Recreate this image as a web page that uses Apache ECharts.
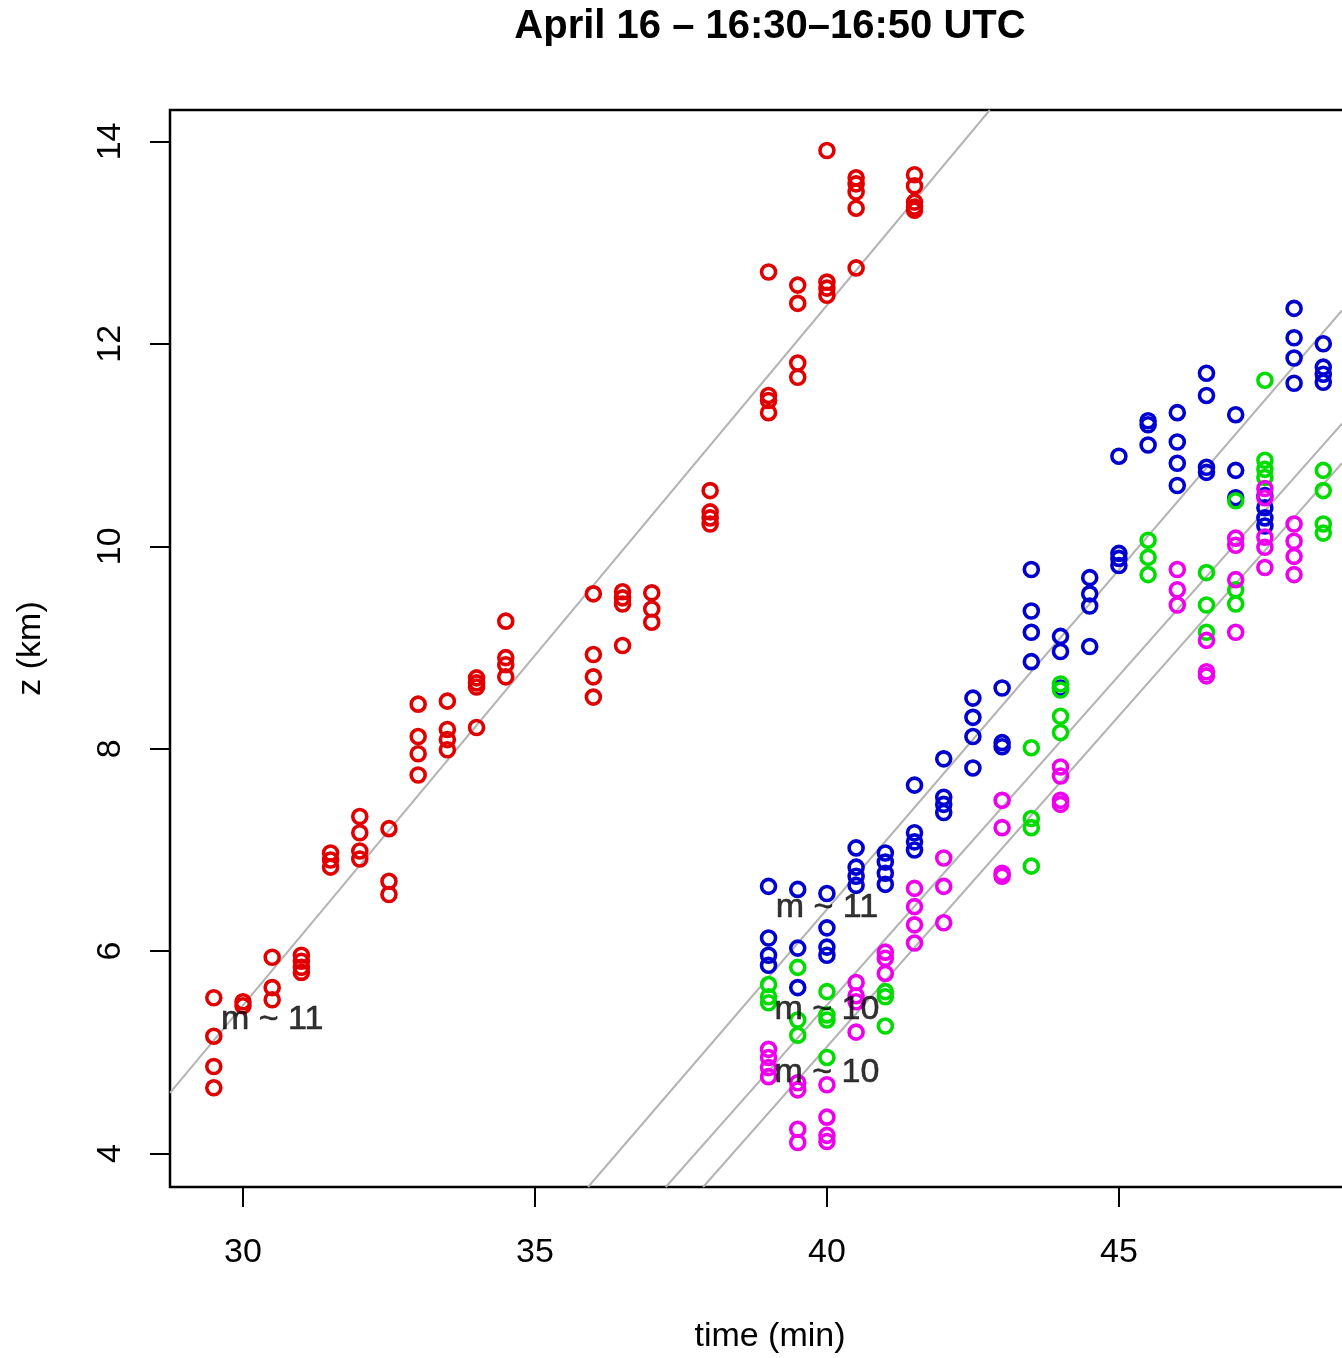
<!DOCTYPE html>
<html>
<head>
<meta charset="utf-8">
<script src="https://cdn.jsdelivr.net/npm/echarts@6/dist/echarts.min.js"></script>
<style>
html,body{margin:0;padding:0;background:#fff;}
#chart{width:1342px;height:1358px;}
</style>
</head>
<body>
<div id="chart"></div>
<script>
// ---- data ----
const titleText = 'April 16 \u2013 16:30\u201316:50 UTC';
const xTicks = [30, 35, 40, 45];
const yTicks = [4, 6, 8, 10, 12, 14];

const redPts = [
  [29.5,5.54],[29.5,5.16],[29.5,4.86],[29.5,4.65],
  [30,5.50],[30,5.46],
  [30.5,5.94],[30.5,5.64],[30.5,5.52],
  [31,5.96],[31,5.90],[31,5.84],[31,5.79],
  [31.5,6.97],[31.5,6.90],[31.5,6.83],
  [32,7.33],[32,7.17],[32,6.99],[32,6.91],
  [32.5,7.21],[32.5,6.69],[32.5,6.56],
  [33,8.44],[33,8.12],[33,7.95],[33,7.74],
  [33.5,8.47],[33.5,8.19],[33.5,8.09],[33.5,7.99],
  [34,8.70],[34,8.65],[34,8.61],[34,8.21],
  [34.5,9.26],[34.5,8.90],[34.5,8.83],[34.5,8.71],
  [36,9.53],[36,8.93],[36,8.71],[36,8.51],
  [36.5,9.55],[36.5,9.49],[36.5,9.43],[36.5,9.02],
  [37,9.54],[37,9.38],[37,9.25],
  [38,10.55],[38,10.34],[38,10.28],[38,10.22],
  [39,12.71],[39,11.49],[39,11.44],[39,11.32],
  [39.5,12.58],[39.5,12.40],[39.5,11.81],[39.5,11.67],
  [40,13.91],[40,12.61],[40,12.55],[40,12.48],
  [40.5,13.64],[40.5,13.58],[40.5,13.50],[40.5,13.34],[40.5,12.75],
  [41.5,13.67],[41.5,13.56],[41.5,13.40],[41.5,13.35],[41.5,13.32]
];
const bluePts = [
  [39,6.64],[39,6.13],[39,5.96],[39,5.86],
  [39.5,6.61],[39.5,6.03],[39.5,5.64],
  [40,6.57],[40,6.23],[40,6.04],[40,5.96],
  [40.5,7.02],[40.5,6.83],[40.5,6.74],[40.5,6.65],
  [41,6.97],[41,6.88],[41,6.77],[41,6.66],
  [41.5,7.64],[41.5,7.17],[41.5,7.08],[41.5,7.00],
  [42,7.90],[42,7.52],[42,7.45],[42,7.37],
  [42.5,8.50],[42.5,8.31],[42.5,8.12],[42.5,7.81],
  [43,8.60],[43,8.06],[43,8.02],
  [43.5,9.77],[43.5,9.36],[43.5,9.15],[43.5,8.86],
  [44,9.11],[44,8.96],[44,8.60],
  [44.5,9.69],[44.5,9.53],[44.5,9.41],[44.5,9.01],
  [45,10.89],[45,9.93],[45,9.88],[45,9.81],
  [45.5,11.24],[45.5,11.20],[45.5,11.00],
  [46,11.32],[46,11.03],[46,10.82],[46,10.60],
  [46.5,11.71],[46.5,11.49],[46.5,10.78],[46.5,10.73],
  [47,11.30],[47,10.75],[47,10.48],
  [47.5,10.50],[47.5,10.38],[47.5,10.28],[47.5,10.20],
  [48,12.35],[48,12.06],[48,11.86],[48,11.61],
  [48.5,12.00],[48.5,11.77],[48.5,11.70],[48.5,11.62]
];
const greenPts = [
  [39,5.67],[39,5.55],[39,5.49],
  [39.5,5.84],[39.5,5.32],[39.5,5.17],
  [40,5.60],[40,5.37],[40,5.32],[40,4.95],
  [41,5.60],[41,5.55],[41,5.26],
  [43.5,8.01],[43.5,7.31],[43.5,7.22],[43.5,6.84],
  [44,8.64],[44,8.58],[44,8.32],[44,8.16],
  [45.5,10.06],[45.5,9.89],[45.5,9.72],
  [46.5,9.74],[46.5,9.42],[46.5,9.15],
  [47,10.45],[47,9.57],[47,9.43],
  [47.5,11.64],[47.5,10.85],[47.5,10.76],[47.5,10.68],
  [48.5,10.75],[48.5,10.55],[48.5,10.22],[48.5,10.13]
];
const magentaPts = [
  [39,5.03],[39,4.95],[39,4.85],[39,4.76],
  [39.5,4.70],[39.5,4.63],[39.5,4.24],[39.5,4.11],
  [40,4.68],[40,4.36],[40,4.18],[40,4.12],
  [40.5,5.69],[40.5,5.56],[40.5,5.50],[40.5,5.20],
  [41,5.99],[41,5.93],[41,5.78],
  [41.5,6.62],[41.5,6.44],[41.5,6.26],[41.5,6.08],
  [42,6.92],[42,6.64],[42,6.28],
  [43,7.49],[43,7.22],[43,6.77],[43,6.74],
  [44,7.82],[44,7.73],[44,7.49],[44,7.45],
  [46,9.77],[46,9.57],[46,9.42],
  [46.5,9.07],[46.5,8.76],[46.5,8.72],
  [47,10.08],[47,10.01],[47,9.67],[47,9.15],
  [47.5,10.57],[47.5,10.48],[47.5,10.09],[47.5,9.99],[47.5,9.79],
  [48,10.22],[48,10.05],[48,9.90],[48,9.72]
];
// fitted ascent lines: [t start, z start, t end, z end]
const fitLines = [
  [28.75, 4.60, 42.79, 14.31],
  [35.91, 3.67, 48.82, 12.33],
  [37.24, 3.67, 48.82, 11.21],
  [37.88, 3.67, 48.82, 10.82]
];
// annotations: [t, z, text]
const notes = [
  [30.5, 5.32, 'm ~ 11'],
  [40.0, 6.43, 'm ~ 11'],
  [40.0, 5.42, 'm ~ 10'],
  [40.0, 4.80, 'm ~ 10']
];

const FONT = '"Liberation Sans", Arial, Helvetica, sans-serif';

function pointSeries(name, pts, color) {
  return {
    name: name, type: 'scatter', data: pts,
    symbol: 'circle', symbolSize: 14,
    itemStyle: {color: 'rgba(0,0,0,0)', borderColor: color, borderWidth: 3.6, opacity: 1},
    z: 3, silent: true
  };
}

const series = [];
fitLines.forEach((l) => {
  series.push({
    type: 'line', data: [[l[0], l[1]], [l[2], l[3]]],
    showSymbol: false, symbol: 'none',
    lineStyle: {color: '#b4b4b4', width: 2},
    z: 2, silent: true, clip: true
  });
});
series.push(pointSeries('red', redPts, '#e00000'));
series.push(pointSeries('blue', bluePts, '#0000d0'));
series.push(pointSeries('green', greenPts, '#00dc00'));
series.push(pointSeries('magenta', magentaPts, '#ee00ee'));
series.push({
  type: 'scatter', data: notes, symbolSize: 1,
  itemStyle: {color: 'rgba(0,0,0,0)'},
  label: {
    show: true, position: 'inside', formatter: p => p.data[2],
    fontFamily: FONT, fontSize: 34, color: '#000', textBorderWidth: 0.6, textBorderColor: '#000'
  },
  z: 5, silent: true
});

const chart = echarts.init(document.getElementById('chart'), null, {renderer: 'canvas'});
chart.setOption({
  backgroundColor: '#fff',
  animation: false,
  grid: {left: 170, top: 110, width: 1200, height: 1077, show: true,
         outerBoundsMode: 'none', containLabel: false,
         borderColor: '#000', borderWidth: 2.5, backgroundColor: 'rgba(0,0,0,0)'},
  xAxis: {
    type: 'value', min: 28.75, max: 49.3,
    axisLine: {show: false},
    axisTick: {show: true, customValues: xTicks, length: 20, lineStyle: {color: '#000', width: 2}},
    axisLabel: {customValues: xTicks, fontFamily: FONT, fontSize: 34, color: '#000', margin: 49},
    splitLine: {show: false},
    name: 'time (min)', nameLocation: 'middle', nameGap: 133,
    nameTextStyle: {fontFamily: FONT, fontSize: 34, color: '#000'}
  },
  yAxis: {
    type: 'value', min: 3.67, max: 14.31,
    axisLine: {show: false},
    axisTick: {show: true, customValues: yTicks, length: 20, lineStyle: {color: '#000', width: 2}},
    axisLabel: {customValues: yTicks, rotate: 90, fontFamily: FONT, fontSize: 34, color: '#000', margin: 42},
    splitLine: {show: false},
    name: 'z (km)', nameLocation: 'middle', nameGap: 122,
    nameTextStyle: {fontFamily: FONT, fontSize: 34, color: '#000'}
  },
  graphic: [{
    type: 'text', x: 770, y: 27,
    style: {text: titleText, font: 'bold 40px ' + FONT, fill: '#000',
            textAlign: 'center', textVerticalAlign: 'middle'}
  }],
  series: series
});
</script>
</body>
</html>
